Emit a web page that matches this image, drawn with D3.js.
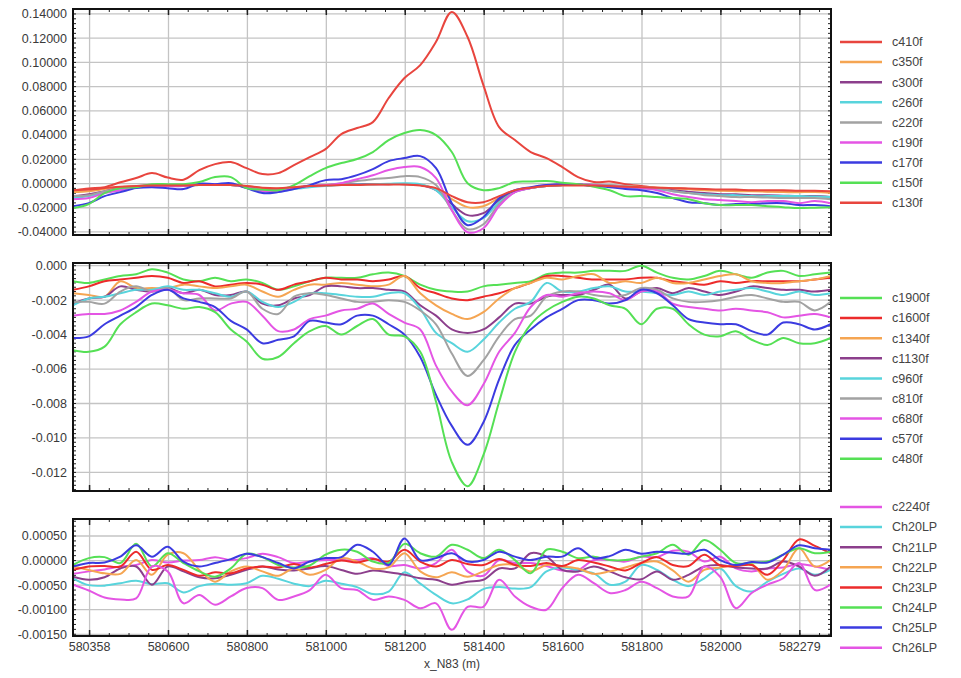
<!DOCTYPE html>
<html>
<head>
<meta charset="utf-8">
<script src="https://cdn.jsdelivr.net/npm/d3@7"></script>
<style>
  body { margin: 0; background: #fff; }
  text { font-family: "Liberation Sans", Arial, sans-serif; }
</style>
</head>
<body>
<svg id="chart" width="961" height="678"></svg>
<script>
// ---- sample positions along the profile (x_N83, m)
const xPos = [580358,580398,580438,580478,580518,580558,580598,580638,580678,580718,580758,580798,580838,580878,580918,580958,580998,581038,581078,581118,581158,581198,581238,581278,581318,581358,581398,581438,581478,581518,581558,581598,581638,581678,581718,581758,581798,581838,581878,581918,581958,581998,582038,582078,582118,582158,582198,582238,582278];

// ---- top panel
const c410f = [-0.0058,-0.0041,-0.003,0.001,0.0045,0.0086,0.0049,0.0032,0.011,0.016,0.0177,0.0127,0.0078,0.0086,0.0152,0.0218,0.0284,0.0408,0.0458,0.0507,0.0706,0.0871,0.0978,0.117,0.1417,0.121,0.0813,0.0466,0.0359,0.026,0.021,0.0136,0.0053,0.0012,0.0016,-0.0005,-0.002,-0.0034,-0.0038,-0.0046,-0.005,-0.0055,-0.0059,-0.0059,-0.0063,-0.0063,-0.0067,-0.0067,-0.0071];
const c350f = [-0.0071,-0.0063,-0.0046,-0.003,-0.0021,-0.0013,-0.0013,-0.0017,-0.0009,-0.0009,-0.0013,-0.0021,-0.0038,-0.0042,-0.003,-0.0021,-0.0013,-0.0009,-0.0009,-0.0005,-0.0005,-0.0005,-0.0013,-0.0046,-0.0129,-0.0195,-0.0187,-0.012,-0.0063,-0.0038,-0.0021,-0.0013,-0.0013,-0.0013,-0.0017,-0.0021,-0.003,-0.0034,-0.0038,-0.0046,-0.0055,-0.0059,-0.0063,-0.0063,-0.0067,-0.0071,-0.0071,-0.0071,-0.0079];
const c300f = [-0.0104,-0.0088,-0.0063,-0.0038,-0.0026,-0.0021,-0.0017,-0.0021,-0.0005,-0.0009,-0.0013,-0.003,-0.0055,-0.0055,-0.0038,-0.0021,-0.0013,-0.0009,-0.0005,-0.0005,-0.0005,-0.0005,-0.0013,-0.0055,-0.017,-0.0261,-0.0245,-0.0137,-0.0063,-0.0038,-0.0021,-0.0013,-0.0009,-0.0013,-0.0021,-0.003,-0.0038,-0.0046,-0.0055,-0.0067,-0.0079,-0.0088,-0.0088,-0.0096,-0.0096,-0.01,-0.0104,-0.0104,-0.0112];
const c260f = [-0.012,-0.0104,-0.0071,-0.0046,-0.003,-0.0021,-0.0021,-0.0021,-0.0013,-0.0013,-0.0013,-0.003,-0.0063,-0.0063,-0.0046,-0.003,-0.0021,-0.0013,-0.0009,-0.0005,-0.0001,0.0003,-0.0005,-0.0055,-0.0195,-0.0311,-0.0286,-0.0154,-0.0071,-0.0038,-0.0021,-0.0013,-0.0009,-0.0013,-0.0021,-0.003,-0.0038,-0.0046,-0.0063,-0.0079,-0.0088,-0.0096,-0.0096,-0.0104,-0.0104,-0.0104,-0.0104,-0.0108,-0.0112];
const c220f = [-0.0104,-0.0096,-0.0063,-0.0038,-0.0021,-0.0013,-0.0017,-0.0021,-0.0005,-0.0005,-0.0009,-0.003,-0.0055,-0.0055,-0.0038,-0.0021,-0.0013,0.0003,0.002,0.0036,0.0045,0.0061,0.0053,-0.0013,-0.022,-0.0377,-0.0336,-0.017,-0.0071,-0.0038,-0.0017,-0.0005,-0.0005,-0.0009,-0.0013,-0.0021,-0.003,-0.0038,-0.0063,-0.0079,-0.0096,-0.0104,-0.0112,-0.0112,-0.0116,-0.012,-0.012,-0.012,-0.0129];
const c190f = [-0.0129,-0.012,-0.0079,-0.0055,-0.003,-0.0021,-0.0021,-0.0021,-0.0005,-0.0005,-0.0009,-0.003,-0.0063,-0.0063,-0.0038,-0.0021,-0.0013,0.0003,0.0036,0.0069,0.0111,0.0136,0.0136,0.0045,-0.022,-0.0402,-0.0369,-0.0187,-0.0071,-0.0038,-0.0013,-0.0005,-0.0005,-0.0013,-0.0021,-0.003,-0.0038,-0.0055,-0.0088,-0.0112,-0.0129,-0.0137,-0.0145,-0.0154,-0.0145,-0.0145,-0.0162,-0.0145,-0.0162];
const c170f = [-0.0187,-0.0162,-0.0104,-0.0071,-0.0038,-0.003,-0.0038,-0.0046,-0.0001,-0.0005,0.0003,-0.0038,-0.0079,-0.0071,-0.0046,-0.0013,0.0028,0.0036,0.0069,0.0119,0.0185,0.021,0.0226,0.0127,-0.0162,-0.0344,-0.0278,-0.0121,-0.0055,-0.003,-0.0013,-0.0005,-0.0009,-0.0021,-0.003,-0.0046,-0.0055,-0.0079,-0.012,-0.0154,-0.0162,-0.0178,-0.017,-0.017,-0.0162,-0.0162,-0.0178,-0.0178,-0.0187];
const c150f = [-0.0203,-0.017,-0.008,-0.0038,-0.003,-0.0005,-0.0005,-0.0005,0.0012,0.0053,0.0053,-0.0038,-0.005,-0.0055,-0.0013,0.0061,0.0127,0.0169,0.0202,0.026,0.0359,0.0417,0.0441,0.04,0.026,0.0003,-0.0055,-0.0038,0.0012,0.0016,0.002,0.0007,-0.0005,-0.0026,-0.0055,-0.0104,-0.0104,-0.0112,-0.012,-0.0129,-0.0162,-0.0178,-0.0178,-0.0178,-0.0187,-0.0195,-0.0203,-0.0199,-0.0195];
const c130f = [-0.0055,-0.005,-0.0038,-0.0026,-0.0021,-0.0017,-0.0017,-0.0017,-0.0013,-0.0013,-0.0013,-0.0021,-0.0034,-0.0038,-0.003,-0.0021,-0.0017,-0.0013,-0.0013,-0.0009,-0.0009,-0.0009,-0.0017,-0.0038,-0.0104,-0.0154,-0.0154,-0.0104,-0.0055,-0.0034,-0.0021,-0.0017,-0.0017,-0.0017,-0.0021,-0.0026,-0.003,-0.0034,-0.0038,-0.0042,-0.0046,-0.005,-0.005,-0.0055,-0.0055,-0.0055,-0.0059,-0.0059,-0.0063];

// ---- middle panel
const c1900f = [-0.0009,-0.0010,-0.0008,-0.0006,-0.0005,-0.0002,-0.0004,-0.0008,-0.0009,-0.0007,-0.0009,-0.0008,-0.0010,-0.0014,-0.0012,-0.0009,-0.0007,-0.0007,-0.0007,-0.0005,-0.0004,-0.0006,-0.0011,-0.0014,-0.0015,-0.0015,-0.0012,-0.0011,-0.0010,-0.0009,-0.0005,-0.0004,-0.0004,-0.0003,-0.0003,-0.0003,0.0000,-0.0004,-0.0007,-0.0008,-0.0006,-0.0003,-0.0005,-0.0007,-0.0004,-0.0003,-0.0006,-0.0005,-0.0004];
const c1600f = [-0.0014,-0.0012,-0.0009,-0.0008,-0.0007,-0.0006,-0.0007,-0.0010,-0.0009,-0.0012,-0.0011,-0.0010,-0.0011,-0.0014,-0.0011,-0.0009,-0.0007,-0.0008,-0.0008,-0.0009,-0.0008,-0.0006,-0.0013,-0.0016,-0.0019,-0.0020,-0.0018,-0.0016,-0.0013,-0.0010,-0.0006,-0.0006,-0.0007,-0.0008,-0.0008,-0.0008,-0.0007,-0.0007,-0.0009,-0.0010,-0.0011,-0.0009,-0.0010,-0.0009,-0.0009,-0.0009,-0.0009,-0.0008,-0.0007];
const c1340f = [-0.0016,-0.0017,-0.0018,-0.0009,-0.0013,-0.0013,-0.0013,-0.0011,-0.0012,-0.0013,-0.0012,-0.0011,-0.0015,-0.0018,-0.0014,-0.0011,-0.0011,-0.0010,-0.0011,-0.0012,-0.0011,-0.0006,-0.0016,-0.0023,-0.0028,-0.0031,-0.0027,-0.0019,-0.0013,-0.0010,-0.0007,-0.0008,-0.0006,-0.0005,-0.0010,-0.0009,-0.0010,-0.0007,-0.0010,-0.0010,-0.0008,-0.0006,-0.0005,-0.0009,-0.0010,-0.0010,-0.0009,-0.0008,-0.0006];
const c1130f = [-0.0022,-0.0019,-0.0018,-0.0012,-0.0014,-0.0015,-0.0013,-0.0016,-0.0014,-0.0017,-0.0017,-0.0015,-0.0022,-0.0023,-0.0019,-0.0017,-0.0012,-0.0012,-0.0013,-0.0013,-0.0014,-0.0015,-0.0023,-0.0029,-0.0037,-0.0039,-0.0037,-0.0030,-0.0022,-0.0022,-0.0018,-0.0017,-0.0017,-0.0014,-0.0011,-0.0019,-0.0015,-0.0013,-0.0016,-0.0013,-0.0015,-0.0017,-0.0015,-0.0012,-0.0013,-0.0014,-0.0014,-0.0015,-0.0014];
const c960f = [-0.0023,-0.0019,-0.0018,-0.0016,-0.0014,-0.0014,-0.0012,-0.0014,-0.0014,-0.0016,-0.0018,-0.0015,-0.0021,-0.0024,-0.0021,-0.0016,-0.0016,-0.0017,-0.0018,-0.0018,-0.0016,-0.0016,-0.0025,-0.0039,-0.0045,-0.0050,-0.0043,-0.0033,-0.0025,-0.0021,-0.0010,-0.0015,-0.0015,-0.0013,-0.0012,-0.0015,-0.0015,-0.0016,-0.0017,-0.0015,-0.0017,-0.0015,-0.0014,-0.0013,-0.0015,-0.0017,-0.0015,-0.0017,-0.0016];
const c810f = [-0.0021,-0.0021,-0.0022,-0.0015,-0.0012,-0.0015,-0.0013,-0.0020,-0.0019,-0.0019,-0.0019,-0.0015,-0.0025,-0.0028,-0.0018,-0.0016,-0.0017,-0.0019,-0.0021,-0.0021,-0.0020,-0.0021,-0.0026,-0.0034,-0.0051,-0.0064,-0.0055,-0.0041,-0.0031,-0.0029,-0.0018,-0.0015,-0.0015,-0.0017,-0.0018,-0.0017,-0.0013,-0.0014,-0.0019,-0.0021,-0.0021,-0.0020,-0.0018,-0.0017,-0.0019,-0.0021,-0.0021,-0.0026,-0.0021];
const c680f = [-0.0029,-0.0028,-0.0028,-0.0026,-0.0021,-0.0015,-0.0014,-0.0016,-0.0017,-0.0026,-0.0022,-0.0021,-0.0029,-0.0038,-0.0037,-0.0031,-0.0029,-0.0026,-0.0025,-0.0022,-0.0028,-0.0033,-0.0037,-0.0058,-0.0073,-0.0081,-0.0069,-0.0050,-0.0039,-0.0024,-0.0017,-0.0018,-0.0016,-0.0015,-0.0016,-0.0020,-0.0015,-0.0015,-0.0022,-0.0024,-0.0025,-0.0026,-0.0025,-0.0026,-0.0027,-0.0030,-0.0029,-0.0028,-0.0030];
const c570f = [-0.0042,-0.0041,-0.0034,-0.0029,-0.0024,-0.0017,-0.0014,-0.0019,-0.0021,-0.0024,-0.0032,-0.0037,-0.0045,-0.0043,-0.0041,-0.0032,-0.0033,-0.0034,-0.0029,-0.0029,-0.0034,-0.0040,-0.0053,-0.0075,-0.0093,-0.0104,-0.0091,-0.0066,-0.0046,-0.0037,-0.0030,-0.0025,-0.0020,-0.0020,-0.0022,-0.0020,-0.0014,-0.0016,-0.0023,-0.0031,-0.0033,-0.0034,-0.0034,-0.0038,-0.0040,-0.0033,-0.0034,-0.0037,-0.0034];
const c480f = [-0.0049,-0.0050,-0.0047,-0.0034,-0.0027,-0.0022,-0.0023,-0.0025,-0.0024,-0.0027,-0.0037,-0.0044,-0.0054,-0.0053,-0.0045,-0.0038,-0.0035,-0.0040,-0.0035,-0.0031,-0.0040,-0.0041,-0.0050,-0.0079,-0.0114,-0.0128,-0.0110,-0.0079,-0.0050,-0.0034,-0.0026,-0.0021,-0.0018,-0.0019,-0.0023,-0.0025,-0.0034,-0.0025,-0.0025,-0.0034,-0.0040,-0.0041,-0.0038,-0.0043,-0.0046,-0.0042,-0.0045,-0.0045,-0.0042];

// ---- bottom panel
const c2240f = [-0.00027,-0.00022,-0.00018,-0.00012,-0.00009,0.00001,-0.00004,0.00000,0.00001,0.00007,0.00001,0.00005,0.00014,0.00007,-0.00005,-0.00002,0.00001,0.00001,0.00001,0.00005,-0.00011,-0.00009,-0.00016,-0.00005,0.00022,-0.00022,-0.00031,0.00001,-0.00005,-0.00005,-0.00011,-0.00020,-0.00019,0.00001,0.00001,-0.00002,0.00008,0.00007,0.00020,0.00018,-0.00002,0.00008,-0.00016,-0.00022,-0.00016,-0.00014,-0.00007,-0.00012,-0.00019];
const Ch20LP = [-0.00036,-0.00050,-0.00051,-0.00046,-0.00041,-0.00048,-0.00046,-0.00065,-0.00052,-0.00047,-0.00049,-0.00046,-0.00031,-0.00037,-0.00047,-0.00052,-0.00041,-0.00047,-0.00054,-0.00068,-0.00063,-0.00024,-0.00047,-0.00070,-0.00087,-0.00079,-0.00058,-0.00054,-0.00057,-0.00054,-0.00022,-0.00014,-0.00020,-0.00026,-0.00049,-0.00043,-0.00009,-0.00019,-0.00039,-0.00052,-0.00036,-0.00016,-0.00052,-0.00063,-0.00043,-0.00027,-0.00016,-0.00029,-0.00019];
const Ch21LP = [-0.00033,-0.00039,-0.00034,-0.00016,-0.00012,-0.00049,-0.00012,-0.00022,-0.00034,-0.00036,-0.00029,-0.00019,-0.00012,-0.00018,-0.00020,-0.00016,-0.00011,-0.00019,-0.00027,-0.00020,-0.00024,-0.00029,-0.00036,-0.00039,-0.00049,-0.00043,-0.00039,-0.00016,-0.00016,0.00015,0.00008,-0.00019,-0.00022,-0.00012,-0.00022,-0.00034,-0.00038,-0.00022,-0.00039,-0.00029,-0.00012,-0.00009,-0.00014,-0.00016,-0.00016,-0.00002,-0.00012,-0.00031,-0.00012];
const Ch22LP = [-0.00012,-0.00019,-0.00026,-0.00027,0.00001,-0.00029,0.00012,0.00015,-0.00019,-0.00043,-0.00022,-0.00012,-0.00022,-0.00031,-0.00016,-0.00029,-0.00019,0.00005,-0.00002,-0.00016,-0.00014,0.00015,-0.00022,-0.00034,-0.00024,-0.00033,-0.00022,-0.00009,-0.00009,-0.00022,-0.00009,-0.00012,-0.00016,-0.00027,-0.00022,-0.00014,-0.00005,-0.00002,-0.00020,-0.00043,-0.00019,-0.00014,-0.00009,-0.00007,-0.00039,-0.00019,0.00025,-0.00012,0.00001];
const Ch23LP = [-0.00019,-0.00012,-0.00011,-0.00012,0.00018,-0.00019,-0.00009,-0.00019,-0.00031,-0.00024,-0.00026,-0.00016,-0.00012,-0.00014,-0.00007,-0.00014,-0.00007,0.00000,-0.00004,0.00003,-0.00002,0.00022,-0.00002,-0.00012,0.00001,-0.00007,-0.00009,0.00003,-0.00009,-0.00011,-0.00005,-0.00011,0.00001,-0.00004,-0.00012,-0.00020,-0.00005,0.00007,-0.00009,-0.00011,0.00012,-0.00010,-0.00011,-0.00009,-0.00029,0.00001,0.00043,0.00030,0.00015];
const Ch24LP = [-0.00009,0.00005,0.00007,-0.00005,0.00034,-0.00012,0.00015,-0.00005,-0.00022,-0.00033,-0.00016,0.00014,0.00007,-0.00009,-0.00014,-0.00010,0.00012,0.00022,0.00018,-0.00002,-0.00005,0.00034,0.00015,0.00008,0.00032,0.00022,0.00005,0.00022,0.00001,-0.00026,0.00022,0.00018,0.00005,0.00008,0.00001,0.00001,0.00008,0.00015,0.00032,0.00012,0.00042,0.00022,-0.00005,-0.00004,-0.00002,0.00012,0.00025,0.00015,0.00018];
const Ch25LP = [-0.00012,-0.00005,-0.00004,0.00008,0.00031,0.00008,0.00028,-0.00002,-0.00012,-0.00005,0.00003,0.00014,0.00007,-0.00005,-0.00016,-0.00002,0.00005,0.00007,0.00032,0.00018,-0.00009,0.00045,0.00001,0.00005,0.00015,-0.00002,0.00001,0.00018,0.00008,0.00001,0.00008,0.00008,0.00025,0.00005,0.00009,0.00022,0.00014,0.00018,0.00016,0.00014,0.00022,0.00001,-0.00009,-0.00003,-0.00004,0.00012,0.00031,0.00025,0.00022];
const Ch26LP = [-0.00049,-0.00061,-0.00075,-0.00079,-0.00077,-0.00012,-0.00022,-0.00087,-0.00070,-0.00090,-0.00073,-0.00056,-0.00056,-0.00080,-0.00073,-0.00060,-0.00029,-0.00056,-0.00060,-0.00080,-0.00073,-0.00080,-0.00097,-0.00087,-0.00141,-0.00094,-0.00094,-0.00039,-0.00073,-0.00094,-0.00100,-0.00056,-0.00029,-0.00046,-0.00066,-0.00060,-0.00043,-0.00056,-0.00073,-0.00073,-0.00012,-0.00033,-0.00097,-0.00066,-0.00049,-0.00036,-0.00005,-0.00060,-0.00049];

// ---- axis ticks
const xTicks = [580400,580600,580800,581000,581200,581400,581600,581800,582000,582200];
const xTickLabels = ["580358","580600","580800","581000","581200","581400","581600","581800","582000","582279"];
const yTicksTop = [0.14,0.12,0.10,0.08,0.06,0.04,0.02,0,-0.02,-0.04];
const yTicksMid = [0,-0.002,-0.004,-0.006,-0.008,-0.010,-0.012];
const yTicksBot = [0.0005,0,-0.0005,-0.001,-0.0015];

const col = {
  red:'#e8453e', red2:'#ec2b2b', orange:'#f5a552', purple:'#8c3f8c', cyan:'#58d4dc',
  gray:'#a2a2a2', magenta:'#e455e4', blue:'#3b3be0', green:'#55e055'
};

const panels = [
  { top:9, bottom:235, domain:[-0.0425,0.1441], ticks:yTicksTop, digits:5, minor:0.004, legendTop:42,
    series:[['c410f',col.red,c410f],['c350f',col.orange,c350f],['c300f',col.purple,c300f],['c260f',col.cyan,c260f],
            ['c220f',col.gray,c220f],['c190f',col.magenta,c190f],['c170f',col.blue,c170f],['c150f',col.green,c150f],['c130f',col.red,c130f]] },
  { top:263, bottom:491, domain:[-0.01308,0.000157], ticks:yTicksMid, digits:3, minor:0.00025, legendTop:298,
    series:[['c1900f',col.green,c1900f],['c1600f',col.red2,c1600f],['c1340f',col.orange,c1340f],['c1130f',col.purple,c1130f],
            ['c960f',col.cyan,c960f],['c810f',col.gray,c810f],['c680f',col.magenta,c680f],['c570f',col.blue,c570f],['c480f',col.green,c480f]] },
  { top:519, bottom:636, domain:[-0.001535,0.000846], ticks:yTicksBot, digits:5, minor:0.0001, legendTop:507, xAxis:true,
    series:[['c2240f',col.magenta,c2240f],['Ch20LP',col.cyan,Ch20LP],['Ch21LP',col.purple,Ch21LP],['Ch22LP',col.orange,Ch22LP],
            ['Ch23LP',col.red2,Ch23LP],['Ch24LP',col.green,Ch24LP],['Ch25LP',col.blue,Ch25LP],['Ch26LP',col.magenta,Ch26LP]] }
];

const left = 73, right = 831;
const svg = d3.select('#chart');
const x = d3.scaleLinear().domain([580358, 582279]).range([left, right]);
const xMinor = d3.range(580350, 582280, 50).filter(v => v >= 580358);

panels.forEach((p, pi) => {
  const y = d3.scaleLinear().domain(p.domain).range([p.bottom, p.top]);
  const g = svg.append('g').attr('class', 'panel');

  // grid
  g.selectAll('line.hg').data(p.ticks).enter().append('line')
    .attr('x1', left).attr('x2', right).attr('y1', d => y(d)).attr('y2', d => y(d))
    .attr('stroke', '#c4c4c4').attr('stroke-width', 1.3);
  g.selectAll('line.vg').data(xTicks).enter().append('line')
    .attr('x1', d => x(d)).attr('x2', d => x(d)).attr('y1', p.top).attr('y2', p.bottom)
    .attr('stroke', '#c4c4c4').attr('stroke-width', 1.3);

  // minor ticks on all four sides
  const yMinor = d3.range(Math.ceil(p.domain[0] / p.minor), Math.floor(p.domain[1] / p.minor) + 1).map(k => k * p.minor);
  g.selectAll('line.ymL').data(yMinor).enter().append('line')
    .attr('x1', left).attr('x2', left + 3).attr('y1', d => y(d)).attr('y2', d => y(d))
    .attr('stroke', '#222').attr('stroke-width', 1);
  g.selectAll('line.ymR').data(yMinor).enter().append('line')
    .attr('x1', right - 3).attr('x2', right).attr('y1', d => y(d)).attr('y2', d => y(d))
    .attr('stroke', '#222').attr('stroke-width', 1);
  g.selectAll('line.xmT').data(xMinor).enter().append('line')
    .attr('x1', d => x(d)).attr('x2', d => x(d)).attr('y1', p.top).attr('y2', p.top + 3)
    .attr('stroke', '#222').attr('stroke-width', 1);
  g.selectAll('line.xmB').data(xMinor).enter().append('line')
    .attr('x1', d => x(d)).attr('x2', d => x(d)).attr('y1', p.bottom - 3).attr('y2', p.bottom)
    .attr('stroke', '#222').attr('stroke-width', 1);
  g.selectAll('line.xMT').data(xTicks).enter().append('line')
    .attr('x1', d => x(d)).attr('x2', d => x(d)).attr('y1', p.top).attr('y2', p.top + 6)
    .attr('stroke', '#222').attr('stroke-width', 1.5);
  g.selectAll('line.xMB').data(xTicks).enter().append('line')
    .attr('x1', d => x(d)).attr('x2', d => x(d)).attr('y1', p.bottom - 6).attr('y2', p.bottom)
    .attr('stroke', '#222').attr('stroke-width', 1.5);

  // y tick labels
  g.selectAll('text.yl').data(p.ticks).enter().append('text')
    .attr('x', 67).attr('y', d => y(d)).attr('dy', '0.35em')
    .attr('text-anchor', 'end').attr('font-size', 12.5).attr('fill', '#3a3a3a')
    .text(d => d.toFixed(p.digits));

  // lines
  const clipId = 'clip' + pi;
  svg.append('clipPath').attr('id', clipId).append('rect')
    .attr('x', left).attr('y', p.top).attr('width', right - left).attr('height', p.bottom - p.top);
  const line = d3.line().x((d, i) => x(xPos[i])).y(d => y(d)).curve(d3.curveCatmullRom.alpha(0.5));
  g.append('g').attr('clip-path', `url(#${clipId})`)
    .selectAll('path').data(p.series).enter().append('path')
    .attr('d', d => line(d[2]))
    .attr('fill', 'none').attr('stroke', d => d[1]).attr('stroke-width', 2)
    .attr('stroke-linejoin', 'round');

  // frame
  g.append('rect').attr('x', left).attr('y', p.top).attr('width', right - left).attr('height', p.bottom - p.top)
    .attr('fill', 'none').attr('stroke', '#111').attr('stroke-width', 2);

  // legend
  const lg = g.selectAll('g.leg').data(p.series).enter().append('g')
    .attr('transform', (d, i) => `translate(840,${p.legendTop + i * 20.1})`);
  lg.append('line').attr('x1', 0).attr('x2', 42).attr('stroke', d => d[1]).attr('stroke-width', 2.5);
  lg.append('text').attr('x', 52).attr('dy', '0.35em').attr('font-size', 12.5).attr('fill', '#444').text(d => d[0]);

  if (p.xAxis) {
    g.selectAll('text.xl').data(xTicks).enter().append('text')
      .attr('x', d => x(d)).attr('y', p.bottom + 15).attr('text-anchor', 'middle')
      .attr('font-size', 12.5).attr('fill', '#3a3a3a')
      .text((d, i) => xTickLabels[i]);
    g.append('text').attr('x', 452).attr('y', p.bottom + 32).attr('text-anchor', 'middle')
      .attr('font-size', 12).attr('fill', '#3a3a3a').text('x_N83 (m)');
  }
});
</script>
</body>
</html>
